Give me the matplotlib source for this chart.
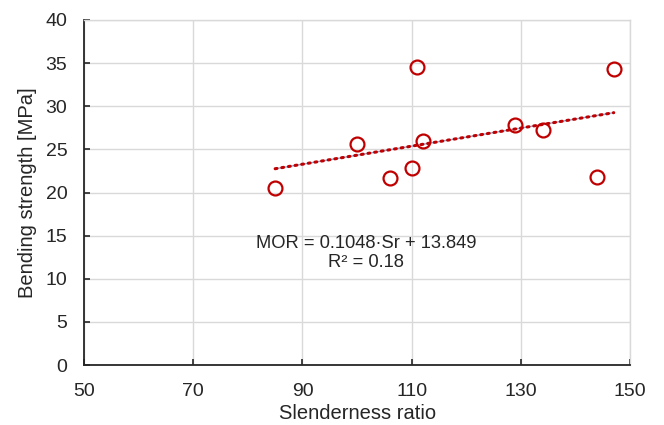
import numpy as np
import matplotlib
matplotlib.use("Agg")
import matplotlib.pyplot as plt

plt.rcParams['font.family'] = ['Liberation Sans', 'DejaVu Sans']

# data
slenderness = [85, 100, 106, 110, 111, 112, 129, 134, 144, 147]
mor = [20.5, 25.6, 21.7, 22.9, 34.6, 26.0, 27.8, 27.2, 21.8, 34.3]
slope, intercept = 0.1048, 13.849
r2 = 0.18
x_ticks = [50, 70, 90, 110, 130, 150]
y_ticks = [0, 5, 10, 15, 20, 25, 30, 35, 40]

fig = plt.figure(figsize=(6.64, 4.25), dpi=100)
ax = fig.add_axes([0.1265, 0.141, 0.8225, 0.812])

grid_c = '#d9d9d9'
red = '#c00000'

# trendline: thin blue-ish line under red dots (Excel look)
xt = np.array([min(slenderness), max(slenderness)])
yt = slope * xt + intercept
ax.plot(xt, yt, color='#8fa8d0', lw=1.0, zorder=2)
ax.plot(xt, yt, color=red, lw=2.2, linestyle=(0, (0.6, 1.6)),
        dash_capstyle='round', zorder=3)

ax.plot(slenderness, mor, linestyle='none', marker='o', markersize=10,
        markerfacecolor='none', markeredgecolor=red, markeredgewidth=1.6, zorder=4)

ax.text(101.6, 13.0, 'MOR = %.4f\u00b7Sr + %.3f\nR\u00b2 = %.2f' % (slope, intercept, r2),
        ha='center', va='center', fontsize=13.2, linespacing=1.1, color='#262626')

ax.set_xlim(50, 150)
ax.set_ylim(0, 40)
ax.set_xticks(x_ticks)
ax.set_yticks(y_ticks)
ax.grid(True, color=grid_c, lw=1.0)
ax.set_axisbelow(True)

for s in ['top', 'right']:
    ax.spines[s].set_color(grid_c)
    ax.spines[s].set_linewidth(1.0)
for s in ['left', 'bottom']:
    ax.spines[s].set_color('#262626')
    ax.spines[s].set_linewidth(1.3)

ax.tick_params(axis='both', direction='in', length=4, width=1.2,
               labelsize=14, colors='#262626')
ax.tick_params(axis='x', pad=13)
ax.tick_params(axis='y', pad=12)

ax.set_xlabel('Slenderness ratio', fontsize=14.5, color='#262626', labelpad=3)
ax.set_ylabel('Bending strength [MPa]', fontsize=14.5, color='#262626', labelpad=6)

fig.savefig('out.png', dpi=100)
